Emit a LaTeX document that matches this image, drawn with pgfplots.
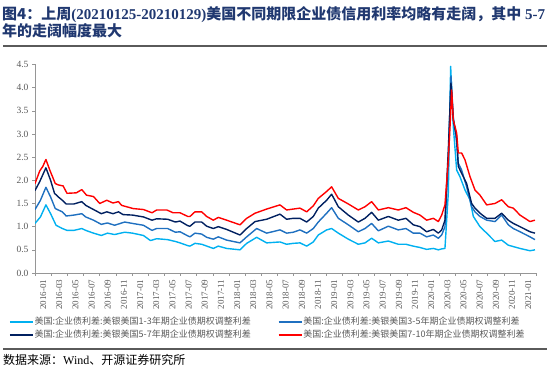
\documentclass[border=0pt]{standalone}
\usepackage{fontspec}
\setmainfont{Liberation Serif}
\newfontfamily\cjk{Noto Sans CJK SC}
\usepackage{pgfplots}
\pgfplotsset{compat=1.18}
\definecolor{cA}{RGB}{0,176,240}
\definecolor{cB}{RGB}{31,112,192}
\definecolor{cC}{RGB}{0,32,96}
\definecolor{cD}{RGB}{255,0,0}
\definecolor{titleblue}{RGB}{32,56,112}
\definecolor{axisgray}{RGB}{150,150,150}
\definecolor{labgray}{RGB}{89,89,89}
\definecolor{rulegray}{RGB}{90,90,90}
\begin{document}
\begin{tikzpicture}[x=1pt,y=1pt]
\path[use as bounding box] (0pt,0pt) rectangle (550pt,374pt);
\node[anchor=base west, inner sep=0pt, text=titleblue, font=\fontsize{15}{18}\selectfont\bfseries] at (2pt,354pt)
  {{\cjk\bfseries 图4：上周}(20210125-20210129){\cjk\bfseries 美国不同期限企业债信用利率均略有走阔，其中} 5-7};
\node[anchor=base west, inner sep=0pt, text=titleblue, font=\fontsize{15}{18}\selectfont\bfseries] at (2pt,337pt)
  {{\cjk\bfseries 年的走阔幅度最大}};
\draw[rulegray, line width=2pt] (3pt,327.5pt) -- (547pt,327.5pt);
\draw[rulegray, line width=2pt] (3pt,25pt) -- (547pt,25pt);
\begin{axis}[
  scale only axis, width=501.3pt, height=208.5pt,
  at={(35pt,101pt)}, anchor=south west,
  xmin=0, xmax=64.27, ymin=0, ymax=4.5,
  axis x line*=bottom, axis y line*=left,
  axis line style={draw=axisgray, line width=0.7pt},
  tick align=outside, major tick length=3pt,
  tick style={draw=axisgray, line width=0.6pt},
  xtick={0,2.0731,4.1462,6.2193,8.2924,10.3655,12.4386,14.5117,16.5848,18.6579,20.731,22.8041,24.8772,26.9503,29.0234,31.0965,33.1696,35.2427,37.3158,39.3889,41.462,43.5351,45.6082,47.6813,49.7544,51.8275,53.9006,55.9737,58.0468,60.1199,62.193,64.2661},
  x tick label as interval,
  xticklabels={2016-01,2016-03,2016-05,2016-07,2016-09,2016-11,2017-01,2017-03,2017-05,2017-07,2017-09,2017-11,2018-01,2018-03,2018-05,2018-07,2018-09,2018-11,2019-01,2019-03,2019-05,2019-07,2019-09,2019-11,2020-01,2020-03,2020-05,2020-07,2020-09,2020-11,2021-01},
  xticklabel style={rotate=90, anchor=east, font=\fontsize{9}{9}\selectfont, text=labgray},
  ytick={0,0.5,1,1.5,2,2.5,3,3.5,4,4.5},
  yticklabel style={font=\fontsize{9.5}{9.5}\selectfont, text=labgray,
    /pgf/number format/.cd, fixed, fixed zerofill, precision=1, assume math mode=true},
  legend columns=2,
  legend style={at={(-0.058,-0.197)}, anchor=north west, draw=none, fill=none,
    font=\cjk\fontsize{9}{9}\selectfont, text=labgray,
    nodes={inner sep=1pt, text height=7pt, text depth=2pt}, row sep=2pt,
    /tikz/every even column/.append style={column sep=26pt}},
  legend cell align=left,
  legend image code/.code={\draw[#1, line width=1.6pt] (0pt,0pt) -- (23pt,0pt);},
  every axis plot/.append style={line width=1.4pt, line join=round, mark=none},
]
\addplot[cA] coordinates {(0,1.07)(0.7,1.21)(1.4,1.47)(2.0,1.28)(2.7,1.03)(3.5,0.96)(4.1,0.92)(5.0,0.92)(6.0,0.96)(6.5,0.92)(7.5,0.86)(8.5,0.81)(9.3,0.86)(10.2,0.83)(11.5,0.88)(12.5,0.86)(13.9,0.81)(14.8,0.70)(15.6,0.74)(17.0,0.72)(18.0,0.68)(18.59,0.65)(19.6,0.59)(19.87,0.58)(20.51,0.64)(21.37,0.62)(22.86,0.53)(23.5,0.58)(24.57,0.53)(26.28,0.50)(27.14,0.64)(28.42,0.77)(29.7,0.65)(31.41,0.67)(32.26,0.62)(33.12,0.64)(33.97,0.65)(34.83,0.58)(35.68,0.67)(36.32,0.82)(37.39,0.93)(38.03,0.96)(38.89,0.86)(40.17,0.73)(41.45,0.62)(42.31,0.65)(43.16,0.75)(44.02,0.65)(45.3,0.69)(46.58,0.62)(47.56,0.62)(48.5,0.58)(49.36,0.55)(50.21,0.51)(51.07,0.53)(51.71,0.50)(52.14,0.52)(52.56,0.53)(52.99,1.73)(53.29,4.46)(53.63,3.16)(54.06,2.22)(54.48,2.08)(55.13,1.79)(55.77,1.58)(56.2,1.22)(57.05,1.0)(57.91,0.86)(58.97,0.68)(59.83,0.71)(60.68,0.60)(62.18,0.53)(63.46,0.48)(64.1,0.50)};
\addlegendentry{美国:企业债利差:美银美国1-3年期企业债期权调整利差}
\addplot[cB] coordinates {(0,1.37)(0.7,1.57)(1.4,1.85)(2.0,1.64)(2.6,1.39)(3.5,1.32)(4.0,1.23)(5.0,1.25)(6.0,1.28)(6.5,1.21)(7.5,1.14)(8.5,1.05)(9.3,1.08)(10.2,1.03)(11.5,1.10)(12.5,1.07)(13.9,1.03)(15.0,0.92)(15.6,0.96)(17.0,0.96)(18.0,0.88)(18.59,0.89)(19.6,0.80)(19.87,0.78)(20.51,0.86)(21.37,0.84)(22.01,0.77)(22.86,0.73)(23.5,0.78)(24.57,0.71)(26.28,0.65)(27.14,0.78)(28.42,0.96)(29.7,0.86)(31.41,0.93)(32.26,0.86)(33.12,0.88)(33.97,0.93)(34.83,0.86)(35.68,0.96)(36.32,1.10)(37.39,1.29)(38.03,1.41)(38.89,1.18)(40.17,1.04)(41.45,0.89)(42.31,0.96)(43.16,1.07)(44.02,0.91)(45.3,1.01)(46.58,0.93)(47.56,0.96)(48.5,0.86)(49.36,0.86)(50.21,0.78)(51.07,0.82)(51.71,0.75)(52.14,0.82)(52.56,1.0)(52.99,2.44)(53.33,4.25)(53.63,3.37)(54.06,2.8)(54.27,2.37)(54.7,2.22)(55.34,1.86)(55.98,1.43)(56.41,1.32)(57.05,1.22)(57.91,1.14)(58.97,1.11)(59.83,1.25)(60.68,1.04)(61.32,0.96)(62.18,0.89)(63.46,0.78)(64.1,0.72)};
\addlegendentry{美国:企业债利差:美银美国3-5年期企业债期权调整利差}
\addplot[cC] coordinates {(0,1.78)(0.6,1.97)(1.4,2.27)(2.0,2.0)(2.5,1.72)(3.0,1.64)(3.5,1.57)(4.0,1.49)(5.0,1.49)(6.0,1.54)(6.5,1.46)(7.5,1.37)(8.5,1.28)(9.2,1.32)(10.0,1.28)(10.7,1.32)(11.3,1.26)(12.5,1.25)(13.9,1.21)(15.0,1.14)(15.6,1.17)(17.0,1.16)(18.0,1.10)(18.59,1.12)(19.6,1.02)(19.87,1.01)(20.51,1.10)(21.37,1.10)(22.01,1.01)(22.86,0.96)(23.5,1.0)(24.57,0.94)(26.28,0.82)(27.14,0.96)(28.21,1.11)(29.7,1.16)(31.41,1.27)(32.26,1.16)(33.12,1.18)(33.97,1.18)(34.83,1.10)(35.68,1.22)(36.32,1.40)(37.39,1.57)(38.03,1.70)(38.89,1.43)(40.17,1.25)(41.45,1.10)(42.31,1.18)(43.16,1.31)(44.02,1.14)(45.3,1.22)(46.58,1.14)(47.56,1.18)(48.5,1.04)(49.36,1.0)(50.21,0.89)(51.07,0.94)(51.71,0.86)(52.14,0.93)(52.56,1.14)(52.99,2.66)(53.33,4.1)(53.63,3.3)(54.06,2.94)(54.27,2.3)(54.7,2.15)(55.34,1.93)(55.98,1.5)(56.41,1.4)(57.05,1.29)(57.91,1.18)(58.97,1.18)(59.83,1.29)(60.68,1.14)(61.32,1.07)(62.18,1.0)(63.46,0.89)(64.1,0.86)};
\addlegendentry{美国:企业债利差:美银美国5-7年期企业债期权调整利差}
\addplot[cD] coordinates {(0,1.93)(0.6,2.2)(1.0,2.3)(1.4,2.45)(1.9,2.22)(2.6,1.93)(3.0,1.9)(3.6,1.88)(4.1,1.72)(5.3,1.73)(6.0,1.8)(6.6,1.68)(7.5,1.65)(8.3,1.5)(9.2,1.57)(10.0,1.51)(10.7,1.54)(11.1,1.46)(12.6,1.39)(13.9,1.37)(15.0,1.3)(15.6,1.36)(16.9,1.36)(17.7,1.3)(18.59,1.3)(19.6,1.22)(19.87,1.22)(20.51,1.32)(21.37,1.32)(22.01,1.22)(22.86,1.14)(23.5,1.20)(24.57,1.14)(26.28,1.04)(27.14,1.18)(28.21,1.29)(29.7,1.38)(31.41,1.47)(32.26,1.36)(33.12,1.38)(33.97,1.40)(34.83,1.32)(35.68,1.45)(36.32,1.61)(37.39,1.76)(38.03,1.86)(38.89,1.61)(40.17,1.49)(41.45,1.36)(42.31,1.43)(43.16,1.54)(44.02,1.36)(45.3,1.41)(46.58,1.36)(47.56,1.41)(48.5,1.31)(49.36,1.25)(50.21,1.14)(51.07,1.18)(51.71,1.11)(52.14,1.25)(52.56,1.47)(52.99,2.44)(53.21,3.16)(53.42,3.95)(53.63,3.30)(54.06,3.02)(54.27,2.59)(54.7,2.59)(55.13,2.44)(55.77,2.08)(56.41,1.79)(57.05,1.68)(57.91,1.47)(58.97,1.50)(59.83,1.58)(60.68,1.43)(61.32,1.40)(62.18,1.25)(63.46,1.11)(64.1,1.14)};
\addlegendentry{美国:企业债利差:美银美国7-10年期企业债期权调整利差}
\end{axis}
\node[anchor=base west, inner sep=0pt, font=\fontsize{12}{14}\selectfont] at (3pt,9pt)
  {{\cjk 数据来源：}Wind{\cjk 、开源证券研究所}};
\end{tikzpicture}
\end{document}
